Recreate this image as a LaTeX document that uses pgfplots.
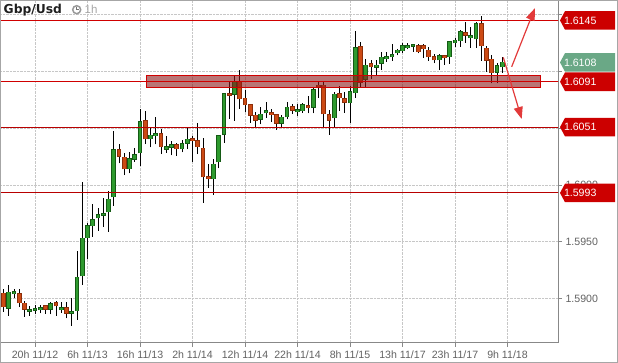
\documentclass[border=0pt]{standalone}
\usepackage{pgfplots}
\pgfplotsset{compat=1.18}
\usepackage{pgfplotstable}
\usetikzlibrary{calc,arrows.meta}
\usepackage{fontspec}
\setmainfont{Liberation Sans}
\newfontfamily\titlefont{DejaVu Sans}
\newcommand\lbl{\fontsize{10.6}{12}\selectfont}
\definecolor{gfill}{HTML}{2E9A2E}
\definecolor{gline}{HTML}{145A14}
\definecolor{rfill}{HTML}{CC4A14}
\definecolor{rline}{HTML}{8C2E0A}
\definecolor{lred}{HTML}{D00000}
\definecolor{dred}{HTML}{B80000}
\definecolor{bandc}{HTML}{8B1A1A}
\definecolor{tagred}{HTML}{CC0000}
\definecolor{taggreen}{HTML}{6AA886}
\definecolor{arrowred}{HTML}{E23A3A}
\definecolor{axgray}{HTML}{888888}

\pgfplotstableread{
i o h l c
-5 1.58914 1.59119 1.58849 1.59055
-4 1.59043 1.59084 1.59002 1.59060
-1 1.58887 1.58934 1.58849 1.58899
0 1.58896 1.58943 1.58861 1.58910
1 1.58902 1.58946 1.58870 1.58919
3 1.58905 1.58972 1.58861 1.58952
5 1.58902 1.58969 1.58875 1.58919
7 1.58870 1.59007 1.58758 1.58881
8 1.58893 1.59419 1.58811 1.59187
9 1.59201 1.60024 1.59119 1.59531
10 1.59536 1.59663 1.59348 1.59639
11 1.59642 1.59833 1.59545 1.59692
12 1.59712 1.59798 1.59598 1.59736
13 1.59733 1.59886 1.59633 1.59747
14 1.59765 1.59945 1.59589 1.59874
15 1.59897 1.60476 1.59818 1.60309
18 1.60144 1.60291 1.60103 1.60229
19 1.60229 1.60324 1.60205 1.60264
20 1.60285 1.60670 1.60168 1.60555
22 1.60408 1.60502 1.60332 1.60438
23 1.60435 1.60597 1.60359 1.60452
25 1.60317 1.60432 1.60285 1.60335
26 1.60335 1.60390 1.60262 1.60353
28 1.60320 1.60397 1.60288 1.60361
29 1.60368 1.60502 1.60315 1.60403
34 1.60056 1.60229 1.59912 1.60183
35 1.60205 1.60440 1.60147 1.60432
36 1.60447 1.60812 1.60373 1.60805
38 1.60799 1.60963 1.60567 1.60910
43 1.60579 1.60685 1.60535 1.60623
44 1.60637 1.60731 1.60593 1.60652
47 1.60544 1.60617 1.60514 1.60597
48 1.60602 1.60729 1.60579 1.60685
50 1.60646 1.60711 1.60608 1.60661
51 1.60655 1.60720 1.60637 1.60705
53 1.60685 1.60866 1.60632 1.60837
57 1.60593 1.60817 1.60509 1.60799
60 1.60725 1.60872 1.60549 1.60820
61 1.60813 1.61357 1.60769 1.61207
63 1.60931 1.61110 1.60861 1.61055
65 1.61037 1.61101 1.60967 1.61055
66 1.61072 1.61172 1.61013 1.61125
67 1.61113 1.61169 1.61084 1.61128
68 1.61130 1.61245 1.61095 1.61145
69 1.61166 1.61198 1.61143 1.61187
70 1.61183 1.61249 1.61166 1.61225
71 1.61210 1.61249 1.61196 1.61227
72 1.61222 1.61238 1.61175 1.61234
77 1.61104 1.61154 1.61013 1.61137
79 1.61130 1.61271 1.61069 1.61260
80 1.61254 1.61295 1.61219 1.61275
81 1.61271 1.61366 1.61219 1.61348
83 1.61298 1.61395 1.61210 1.61315
84 1.61289 1.61436 1.61210 1.61419
88 1.60996 1.61072 1.60896 1.61049
89 1.61042 1.61130 1.60990 1.61081
}\greentab

\pgfplotstableread{
i o h l c
-6 1.59046 1.59084 1.58884 1.58928
-3 1.59040 1.59084 1.58923 1.58963
-2 1.58958 1.58978 1.58840 1.58905
2 1.58934 1.58946 1.58866 1.58905
4 1.58961 1.58976 1.58849 1.58937
6 1.58919 1.58967 1.58826 1.58870
16 1.60309 1.60361 1.60191 1.60256
17 1.60244 1.60285 1.60088 1.60144
21 1.60564 1.60655 1.60361 1.60408
24 1.60449 1.60494 1.60273 1.60338
27 1.60353 1.60370 1.60258 1.60320
30 1.60405 1.60432 1.60205 1.60390
31 1.60388 1.60546 1.60273 1.60338
32 1.60324 1.60414 1.59844 1.60073
33 1.60073 1.60185 1.59976 1.60056
37 1.60805 1.60910 1.60582 1.60790
39 1.60910 1.61013 1.60672 1.60760
40 1.60764 1.60837 1.60641 1.60708
41 1.60708 1.60714 1.60549 1.60614
42 1.60614 1.60641 1.60514 1.60573
45 1.60637 1.60670 1.60558 1.60620
46 1.60617 1.60622 1.60485 1.60544
49 1.60687 1.60711 1.60626 1.60661
52 1.60696 1.60784 1.60632 1.60681
54 1.60879 1.60908 1.60767 1.60864
55 1.60879 1.60908 1.60509 1.60628
56 1.60617 1.60661 1.60441 1.60573
58 1.60802 1.60872 1.60652 1.60769
59 1.60758 1.60817 1.60637 1.60731
62 1.61216 1.61260 1.60866 1.60908
64 1.61066 1.61101 1.60931 1.61042
73 1.61225 1.61242 1.61160 1.61175
74 1.61225 1.61242 1.61122 1.61201
75 1.61187 1.61213 1.61095 1.61130
76 1.61128 1.61154 1.61072 1.61104
78 1.61137 1.61143 1.61060 1.61122
82 1.61339 1.61436 1.61254 1.61322
85 1.61419 1.61492 1.61095 1.61227
86 1.61204 1.61225 1.60998 1.61101
87 1.61108 1.61143 1.60896 1.60990
}\redtab

\newcommand{\pricetag}[3]{%
  \fill[#2] ($(#1)+(2pt,0)$) -- ++(5pt,9.3pt) -- ++(50pt,0) -- ++(0,-18.6pt) -- ++(-50pt,0) -- cycle;
  \node[anchor=west, inner sep=0, text=white, font=\lbl] at ($(#1)+(5.8pt,0)$) {#3};}

\pgfplotsset{candle/.style={draw=none, mark=none, forget plot,
  /pgfplots/error bars/y dir=plus, /pgfplots/error bars/y explicit,
  /pgfplots/error bars/error mark=none}}

\begin{document}
\begin{tikzpicture}
\begin{axis}[
  scale only axis, width=558pt, height=343pt,
  xmin=-6.667, xmax=99.62, ymin=1.58608, ymax=1.6163,
  axis x line*=bottom, axis y line*=right,
  axis line style={draw=axgray, line width=1pt, -},
  xtick={0,10,20,30,40,50,60,70,80,90},
  xticklabels={20h 11/12, 6h 11/13, 16h 11/13, 2h 11/14, 12h 11/14, 22h 11/14, 8h 11/15, 13h 11/17, 23h 11/17, 9h 11/18},
  ytick={1.59,1.595,1.6,1.605,1.61,1.615},
  yticklabels={1.5900,1.5950,1.6000,,,},
  grid=major, grid style={densely dotted, black!22, line width=0.8pt},
  tick align=outside, major tick length=4pt,
  tick style={draw=axgray, line width=0.8pt},
  tick label style={font=\lbl, text=black!62},
  /pgf/number format/assume math mode=true,
  clip=true,
]
% wicks
\addplot[candle, /pgfplots/error bars/error bar style={draw=black, line width=1pt}]
  table[x=i, y=l, y error plus expr={\thisrow{h}-\thisrow{l}}] {\greentab};
\addplot[candle, /pgfplots/error bars/error bar style={draw=black, line width=1pt}]
  table[x=i, y=l, y error plus expr={\thisrow{h}-\thisrow{l}}] {\redtab};
% green bodies
\addplot[candle, /pgfplots/error bars/error bar style={draw=gline, line width=4.8pt, shorten <=-0.6pt, shorten >=-0.6pt}]
  table[x=i, y=o, y error plus expr={\thisrow{c}-\thisrow{o}}] {\greentab};
\addplot[candle, /pgfplots/error bars/error bar style={draw=gfill, line width=2.8pt}]
  table[x=i, y=o, y error plus expr={\thisrow{c}-\thisrow{o}}] {\greentab};
% red bodies
\addplot[candle, /pgfplots/error bars/error bar style={draw=rline, line width=4.8pt, shorten <=-0.6pt, shorten >=-0.6pt}]
  table[x=i, y=c, y error plus expr={\thisrow{o}-\thisrow{c}}] {\redtab};
\addplot[candle, /pgfplots/error bars/error bar style={draw=rfill, line width=2.8pt}]
  table[x=i, y=c, y error plus expr={\thisrow{o}-\thisrow{c}}] {\redtab};
% band and levels
\draw[draw=lred, line width=1pt, fill=bandc, fill opacity=0.6] (axis cs:21.3,1.60861) rectangle (axis cs:96.2,1.60967);
\draw[lred, line width=1pt] (axis cs:-10,1.6145) -- (axis cs:110,1.6145);
\draw[lred, line width=1pt] (axis cs:-10,1.6091) -- (axis cs:110,1.6091);
\draw[dred, line width=1pt] (axis cs:-10,1.6051) -- (axis cs:110,1.6051);
\draw[dred, line width=1pt] (axis cs:-10,1.5993) -- (axis cs:110,1.5993);
% arrows
\draw[arrowred, line width=1.2pt, -{Triangle[length=12pt,width=9pt]}] (axis cs:90.8,1.61042) -- (axis cs:95.2,1.61557);
\draw[arrowred, line width=1.2pt, -{Triangle[length=12pt,width=9pt]}] (axis cs:89.2,1.61125) -- (axis cs:92.7,1.60582);
\coordinate (SW) at (rel axis cs:0,0);
\coordinate (NE) at (rel axis cs:1,1);
\coordinate (NW) at (rel axis cs:0,1);
\coordinate (T1) at (axis cs:99.62,1.6145);
\coordinate (T2) at (axis cs:99.62,1.6108);
\coordinate (T3) at (axis cs:99.62,1.6091);
\coordinate (T4) at (axis cs:99.62,1.6051);
\coordinate (T5) at (axis cs:99.62,1.5993);
\end{axis}
\pricetag{T1}{tagred}{1.6145}
\pricetag{T2}{taggreen}{1.6108}
\pricetag{T3}{tagred}{1.6091}
\pricetag{T4}{tagred}{1.6051}
\pricetag{T5}{tagred}{1.5993}
% title
\node[anchor=base west, inner sep=0, font=\titlefont\bfseries\fontsize{12.3}{14}\selectfont, text=black!88] at ($(NW)+(3.5pt,-14pt)$) {Gbp/Usd};
\draw[black!40, line width=1.5pt] ($(NW)+(76.7pt,-9.7pt)$) circle (4pt);
\draw[black!55, line width=1pt] ($(NW)+(76.7pt,-9.7pt)$) -- ++(0,3pt);
\draw[black!55, line width=1pt] ($(NW)+(76.7pt,-9.7pt)$) -- ++(2.5pt,0);
\node[anchor=base west, inner sep=0, font=\fontsize{11.5}{13}\selectfont, text=black!35] at ($(NW)+(84.5pt,-14pt)$) {1h};
\draw[black!35, line width=0.8pt] ($(SW)+(0.4pt,-19.6pt)$) rectangle ($(NE)+(59.6pt,-0.4pt)$);
\pgfresetboundingbox
\path[use as bounding box] ($(SW)+(0,-20pt)$) rectangle ($(NE)+(60pt,0)$);
\end{tikzpicture}
\end{document}
